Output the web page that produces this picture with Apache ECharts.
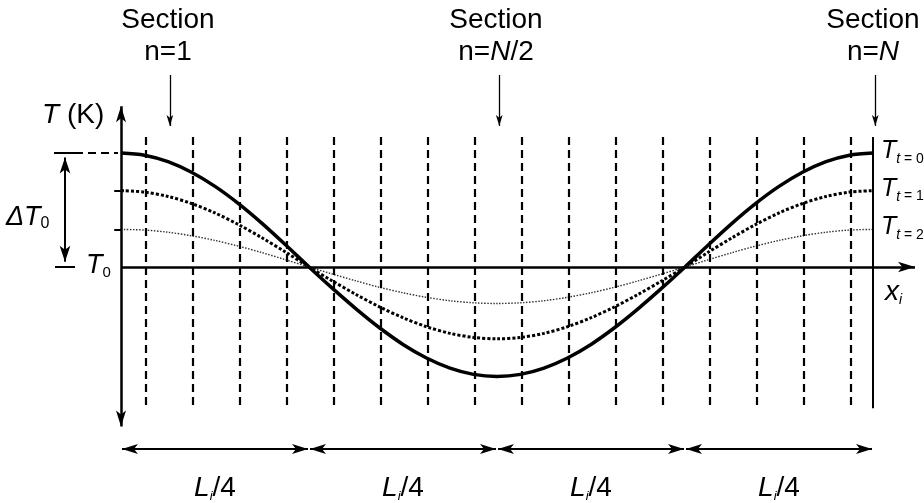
<!DOCTYPE html>
<html><head><meta charset="utf-8">
<script src="https://cdn.jsdelivr.net/npm/echarts@6/dist/echarts.min.js"></script>
<style>html,body{margin:0;padding:0;background:#fff}#c{width:924px;height:503px}</style>
</head><body><div id="c"></div>
<script>
// ---- data (x in units of L_i, y in units of ΔT0 above T0) ----
const xPos = [0, 0.03125, 0.0625, 0.09375, 0.125, 0.15625, 0.1875, 0.21875, 0.25, 0.28125, 0.3125, 0.34375, 0.375, 0.40625, 0.4375, 0.46875, 0.5,
  0.53125, 0.5625, 0.59375, 0.625, 0.65625, 0.6875, 0.71875, 0.75, 0.78125, 0.8125, 0.84375, 0.875, 0.90625, 0.9375, 0.96875, 1];
const T_t0 = [1.000, 0.981, 0.924, 0.831, 0.707, 0.556, 0.383, 0.195, 0.000, -0.188, -0.367, -0.533, -0.679, -0.798, -0.887, -0.942, -0.960,
  -0.942, -0.887, -0.798, -0.679, -0.533, -0.367, -0.188, 0.000, 0.195, 0.383, 0.556, 0.707, 0.831, 0.924, 0.981, 1.000];
const T_t1 = [0.670, 0.657, 0.619, 0.557, 0.474, 0.372, 0.256, 0.131, 0.000, -0.123, -0.241, -0.350, -0.445, -0.524, -0.582, -0.618, -0.630,
  -0.618, -0.582, -0.524, -0.445, -0.350, -0.241, -0.123, 0.000, 0.131, 0.256, 0.372, 0.474, 0.557, 0.619, 0.657, 0.670];
const T_t2 = [0.330, 0.324, 0.305, 0.274, 0.233, 0.183, 0.126, 0.064, 0.000, -0.062, -0.122, -0.178, -0.226, -0.266, -0.296, -0.314, -0.320,
  -0.314, -0.296, -0.266, -0.226, -0.178, -0.122, -0.062, 0.000, 0.064, 0.126, 0.183, 0.233, 0.274, 0.305, 0.324, 0.330];
const sectionLines = [0.033, 0.095, 0.158, 0.220, 0.283, 0.345, 0.408, 0.470, 0.533, 0.595, 0.658, 0.720, 0.783, 0.845, 0.908, 0.970];
const sectionArrowX = [0.065, 0.503, 1.003];
const sectionLabels = ['1', 'N/2', 'N'];
const spanBounds = [0, 0.25, 0.5, 0.75, 1];
const spanLabel = 'L_i/4';
const curveSubs = ['t = 0', 't = 1', 't = 2'];
const curveEnds = [T_t0[32], T_t1[32], T_t2[32]];

// ---- layout ----
const W = 924, H = 503, X0 = 121, Y0 = 267, PX = 752, PY = 114;
const F = "'Liberation Sans', Arial, Helvetica, sans-serif";
const chart = echarts.init(document.getElementById('c'));

function seg(a, b, ls, sa, sb) {
  return [
    {coord: a, symbol: sa ? 'arrow' : 'none', symbolSize: sa || 1, lineStyle: ls},
    {coord: b, symbol: sb ? 'arrow' : 'none', symbolSize: sb || 1}
  ];
}
const solid = w => ({color: '#000', width: w, type: 'solid'});
const dashed = w => ({color: '#000', width: w, type: [8, 5]});

const ml = [];
// axes
ml.push(seg([0, -1.40], [0, 1.41], solid(2.5), [7.5, 16], [7.5, 16]));
ml.push(seg([0, 0], [(915 - X0) / PX, 0], solid(2.5), null, [8, 17]));
ml.push(seg([1, 1.14], [1, -1.24], solid(2), null, null));
// dashed section boundaries
sectionLines.forEach(x => ml.push(seg([x, 1.14], [x, -1.24], dashed(2.2), null, null)));
// peak reference line
ml.push(seg([(54 - X0) / PX, 1], [(75 - X0) / PX, 1], solid(2), null, null));
ml.push(seg([(75 - X0) / PX, 1], [-0.004, 1], dashed(2), null, null));
ml.push(seg([(55 - X0) / PX, 0], [(75 - X0) / PX, 0], solid(2), null, null));
// small ticks on the T axis
[T_t1[0], T_t2[0]].forEach(v => ml.push(seg([-0.009, v], [0, v], solid(2), null, null)));
// ΔT0 double arrow
ml.push(seg([(65 - X0) / PX, 0.045], [(65 - X0) / PX, 0.96], solid(2), [8, 16], [8, 16]));
// section arrows
sectionArrowX.forEach(x => ml.push(seg([x, (Y0 - 75) / PY], [x, (Y0 - 126) / PY], solid(1.3), null, [5, 11])));
// L/4 span arrows
for (let i = 0; i < 4; i++) {
  ml.push(seg([spanBounds[i] + 0.0013, -(449 - Y0) / PY], [spanBounds[i + 1] - 0.0013, -(449 - Y0) / PY], solid(2), [7.5, 16], [7.5, 16]));
}

const option = {
  animation: false,
  grid: {left: 0, right: 0, top: 0, bottom: 0},
  xAxis: {type: 'value', min: -X0 / PX, max: (W - X0) / PX, show: false},
  yAxis: {type: 'value', min: -(H - Y0) / PY, max: Y0 / PY, show: false},
  series: [
    {type: 'line', name: 'T t=0', smooth: 0.3, symbol: 'none', silent: true,
     data: xPos.map((x, i) => [x, T_t0[i]]),
     lineStyle: {color: '#000', width: 3.5},
     markLine: {silent: true, animation: false, symbol: ['none', 'none'], label: {show: false},
       emphasis: {disabled: true}, data: ml}},
    {type: 'line', name: 'T t=1', smooth: 0.3, symbol: 'none', silent: true,
     data: xPos.map((x, i) => [x, T_t1[i]]),
     lineStyle: {color: '#000', width: 3, type: [3, 2]}},
    {type: 'line', name: 'T t=2', smooth: 0.3, symbol: 'none', silent: true,
     data: xPos.map((x, i) => [x, T_t2[i]]),
     lineStyle: {color: '#333', width: 1.4, type: [1.5, 1.5]}}
  ]
};
chart.setOption(option);

// ---- text annotations ----
const g = [];
function txt(x, y, text, rich, align) {
  g.push({type: 'text', x: x, y: y, silent: true,
    style: {text: text, align: align || 'left', verticalAlign: 'middle', fill: '#000', fontFamily: F, rich: rich}});
}
const secRich = {
  r: {fontSize: 28, fontFamily: F, lineHeight: 32, fill: '#000'},
  i: {fontSize: 28, fontFamily: F, fontStyle: 'italic', lineHeight: 32, fill: '#000'}
};
const secPx = [168, 496, 873];
sectionLabels.forEach((s, k) => {
  const body = /N/.test(s) ? '{i|N}' + (s.length > 1 ? '{r|' + s.slice(1) + '}' : '') : '{r|' + s + '}';
  txt(secPx[k], 36, '{r|Section}\n{r|n=}' + body, secRich, 'center');
});
txt(42, 115, '{i|T}{r| (K)}', {
  r: {fontSize: 28, fontFamily: F, lineHeight: 30, fill: '#000'},
  i: {fontSize: 28, fontFamily: F, fontStyle: 'italic', lineHeight: 30, fill: '#000'}
});
txt(6, 217, '{i|ΔT}{s|0}', {
  i: {fontSize: 27, fontFamily: F, fontStyle: 'italic', lineHeight: 30, fill: '#000'},
  s: {fontSize: 16, fontFamily: F, lineHeight: 12, verticalAlign: 'bottom', fill: '#000'}
});
txt(86, 265, '{i|T}{s|0}', {
  i: {fontSize: 27, fontFamily: F, fontStyle: 'italic', lineHeight: 30, fill: '#000'},
  s: {fontSize: 15, fontFamily: F, lineHeight: 12, verticalAlign: 'bottom', fill: '#000'}
});
curveSubs.forEach((s, k) => {
  const yy = Y0 - curveEnds[k] * PY - 2;
  txt(881, yy, '{i|T}{si|t}{s|' + s.slice(1) + '}', {
    i: {fontSize: 25, fontFamily: F, fontStyle: 'italic', lineHeight: 30, fill: '#000'},
    si: {fontSize: 14, fontFamily: F, fontStyle: 'italic', lineHeight: 6, verticalAlign: 'bottom', fill: '#000'},
    s: {fontSize: 14, fontFamily: F, lineHeight: 6, verticalAlign: 'bottom', fill: '#000'}
  });
});
txt(885, 292, '{i|x}{si|i}', {
  i: {fontSize: 28, fontFamily: F, fontStyle: 'italic', lineHeight: 30, fill: '#000'},
  si: {fontSize: 14, fontFamily: F, fontStyle: 'italic', lineHeight: 10, verticalAlign: 'bottom', fill: '#000'}
});
for (let i = 0; i < 4; i++) {
  const cx = X0 + (spanBounds[i] + spanBounds[i + 1]) / 2 * PX;
  const parts = spanLabel.split('_');
  txt(cx, 488, '{i|' + parts[0] + '}{si|' + parts[1][0] + '}{r|' + parts[1].slice(1) + '}', {
    i: {fontSize: 28, fontFamily: F, fontStyle: 'italic', lineHeight: 30, fill: '#000'},
    si: {fontSize: 13, fontFamily: F, fontStyle: 'italic', lineHeight: 8, verticalAlign: 'bottom', fill: '#000'},
    r: {fontSize: 28, fontFamily: F, lineHeight: 30, fill: '#000'}
  }, 'center');
}
chart.setOption({graphic: {elements: g}});
</script>
</body></html>
